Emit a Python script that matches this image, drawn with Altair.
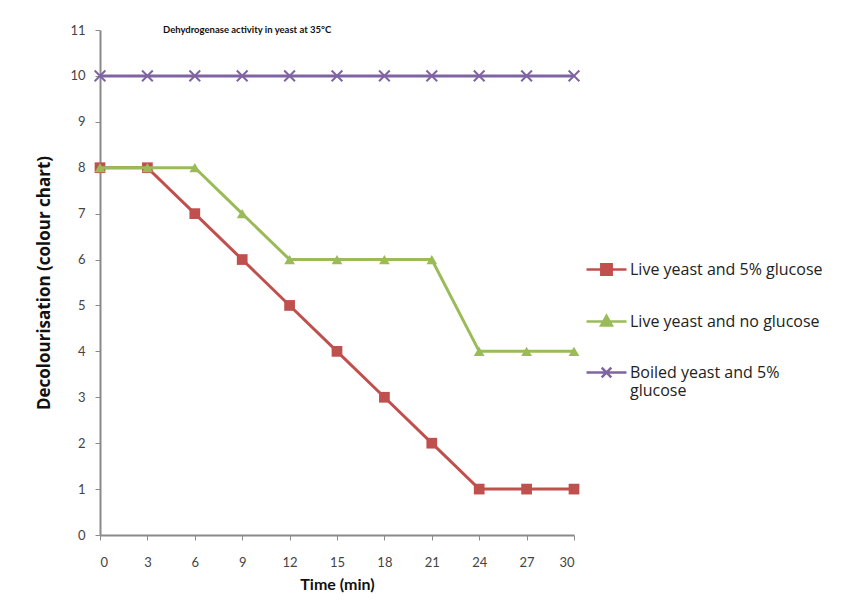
import altair as alt
import pandas as pd

# ---- data ----
time_min = [0, 3, 6, 9, 12, 15, 18, 21, 24, 27, 30]
live_glucose = [8, 8, 7, 6, 5, 4, 3, 2, 1, 1, 1]
live_no_glucose = [8, 8, 8, 7, 6, 6, 6, 6, 4, 4, 4]
boiled_glucose = [10, 10, 10, 10, 10, 10, 10, 10, 10, 10, 10]

series_names = ["Live yeast and 5% glucose", "Live yeast and no glucose", "Boiled yeast and 5% glucose"]
series_colors = ["#c0504d", "#9bbb59", "#8064a2"]

rows = []
for name, vals in zip(series_names, [live_glucose, live_no_glucose, boiled_glucose]):
    for t, v in zip(time_min, vals):
        rows.append({"Time": t, "Value": v, "Series": name})
df = pd.DataFrame(rows)

color_scale = alt.Scale(domain=series_names, range=series_colors)

x_enc = alt.X("Time:Q", scale=alt.Scale(domain=[0, 30], nice=False),
              axis=alt.Axis(values=time_min, title="Time (min)", titlePadding=7,
                            labelPadding=16, titleFont="Lato"))
y_enc = alt.Y("Value:Q", scale=alt.Scale(domain=[0, 11], nice=False),
              axis=alt.Axis(values=list(range(0, 12)), title="Decolourisation (colour chart)",
                            titlePadding=16, labelPadding=10, titleFont="Open Sans",
                            titleFontSize=17))

base = alt.Chart(df)

x_path = "M-1,-1L1,1M1,-1L-1,1"
marker_specs = [("square", True), ("triangle-up", True), (x_path, False)]
layers = []
for name, col, (shp, filled) in zip(series_names, series_colors, marker_specs):
    sub = base.transform_filter(alt.datum.Series == name)
    layers.append(sub.mark_line(strokeWidth=3, color=col).encode(x=x_enc, y=y_enc))
    layers.append(
        sub.mark_point(shape=shp, filled=filled, opacity=1, size=115, color=col,
                       strokeWidth=1.5 if filled else 2)
        .encode(x=x_enc, y=y_enc)
    )

leg_paths = [
    "M-1,0L1,0M-0.26,-0.26H0.26V0.26H-0.26Z",
    "M-1,0L1,0M0,-0.28L0.27,0.2L-0.27,0.2Z",
    "M-1,0L1,0M-0.24,-0.24L0.24,0.24M0.24,-0.24L-0.24,0.24",
]

leg = alt.Legend(
    title=None,
    orient="none", legendX=485, legendY=218,
    symbolSize=1600, symbolStrokeWidth=2.5, symbolOpacity=1,
    labelFont="Open Sans", labelFontSize=16, labelColor="#222",
    labelLimit=400, labelOffset=2, rowPadding=20, padding=0,
    labelExpr="datum.label == 'Boiled yeast and 5% glucose' ? ['Boiled yeast and 5%', 'glucose'] : datum.label",
)

# legend-only layer: no rows drawn (filtered out), scale domain is explicit
legend_layer = base.transform_filter(alt.datum.Time < 0).mark_point(filled=True, opacity=1).encode(
    x=x_enc, y=y_enc,
    fill=alt.Fill("Series:N", scale=color_scale, legend=leg),
    stroke=alt.Stroke("Series:N", scale=color_scale, legend=leg),
    shape=alt.Shape("Series:N", scale=alt.Scale(domain=series_names, range=leg_paths), legend=leg),
)

chart = alt.layer(*layers, legend_layer).properties(
    width=474, height=505,
    padding={"left": 92, "top": 22, "right": 260, "bottom": 60},
    autosize=alt.AutoSizeParams(type="none"),
    background="white",
    title=alt.TitleParams("Dehydrogenase activity in yeast at 35°C", anchor="start",
                          frame="group", dx=63, dy=14, font="Lato", fontSize=9.5,
                          fontWeight="bold", color="#111"),
).configure_view(stroke=None).configure_axis(
    grid=False, domainColor="#8a8a8a", domainWidth=2, tickColor="#8a8a8a", tickSize=5,
    labelFont="Lato", labelFontSize=13, labelColor="#444",
    titleFontSize=16, titleFontWeight="bold", titleColor="#111",
)

chart.save("out.html", embed_options={"renderer": "svg", "actions": False})
